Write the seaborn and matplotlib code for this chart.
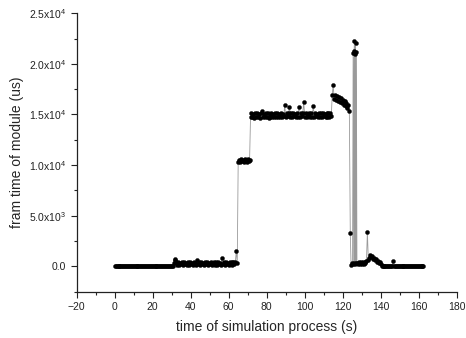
import numpy as np
import pandas as pd
import matplotlib
matplotlib.use("Agg")
import matplotlib.pyplot as plt
from matplotlib.ticker import MultipleLocator, FixedLocator, FixedFormatter
import seaborn as sns

# Frame time of module (us), one list per phase of the run
# idle phase, 0 - 30.5 s
seg_a_start, seg_a_step = 0.0, 0.5
seg_a = [0, 0, 0, 0, 0, 0, 0, 0, 0, 0, 0, 0, 0, 0, 0, 0, 0, 0, 0, 0,
         0, 0, 0, 0, 0, 0, 0, 0, 0, 0, 0, 0, 0, 0, 0, 0, 0, 0, 0, 0,
         0, 0, 0, 0, 0, 0, 0, 0, 0, 0, 0, 0, 0, 0, 0, 0, 0, 0, 0, 0,
         0, 0]

# low load, 31 - 64.5 s
seg_b_start, seg_b_step = 31.0, 0.5
seg_b = [350, 760, 620, 420, 180, 400, 150, 380, 200, 420, 160, 390, 210, 360,
         140, 420, 180, 400, 220, 370, 150, 410, 190, 380, 170, 660, 200, 390,
         160, 420, 210, 360, 150, 400, 190, 430, 170, 380, 200, 410, 160, 370,
         220, 400, 150, 390, 180, 420, 200, 380, 170, 860, 190, 400, 160, 420,
         210, 370, 150, 410, 190, 390, 170, 430, 200, 400, 1550, 300]

# first step, 65 - 71 s
seg_c_start, seg_c_step = 65.0, 0.5
seg_c = [10350, 10550, 10300, 10600, 10400, 10520, 10280, 10580, 10450, 10350,
         10600, 10420, 10550]

# plateau, 71.5 - 114 s
seg_d_start, seg_d_step = 71.5, 0.5
seg_d = [14750, 15100, 14700, 15050, 14650, 15150, 14700, 15100, 14750, 15050,
         14680, 15120, 15300, 14720, 15080, 14700, 15150, 14750, 15100, 14650,
         15050, 14720, 15120, 14780, 15080, 14700, 15150, 14750, 15100, 14720,
         15050, 14780, 15120, 14750, 15080, 14800, 15950, 14750, 15100, 14800,
         15150, 15700, 14780, 15100, 14750, 15150, 14800, 15080, 14720, 15120,
         14780, 15700, 14750, 15100, 14800, 15150, 16250, 14780, 15120, 14750,
         15080, 14800, 15150, 14720, 15100, 14780, 15870, 14750, 15120, 14800,
         15080, 14720, 15150, 14780, 15100, 14750, 15120, 14800, 15080, 14720,
         15150, 14780, 15100, 14750, 15120, 14800]

# decaying block, 114.5 - 123.5 s
seg_e_start, seg_e_step = 114.5, 0.5
seg_e = [16950, 17900, 16550, 16950, 16450, 16850, 16350, 16700, 16250, 16600,
         16100, 16450, 15950, 16300, 15800, 16100, 15600, 15900, 15350]

# spike around 126 s (irregular samples)
spike_t = [124.0, 124.4, 124.8, 125.2, 125.5, 125.8, 126.0, 126.2, 126.4,
           126.6, 126.8, 127.0, 127.2, 127.5]
spike_v = [3250, 150, 300, 200, 21100, 300, 21300, 22300, 250, 21000, 22100,
           350, 21200, 300]

# small bump, 128 - 140 s
seg_g_start, seg_g_step = 128.0, 0.5
seg_g = [200, 400, 250, 450, 200, 420, 250, 450, 300, 500, 3400, 600, 850,
         1100, 900, 1000, 750, 850, 600, 700, 450, 550, 300, 400, 200]

# idle again, 140.5 - 162.5 s
seg_h_start, seg_h_step = 140.5, 0.5
seg_h = [0, 0, 0, 0, 0, 0, 0, 0, 0, 0, 0, 0, 500, 0, 0, 0, 0, 0, 0, 0,
         0, 0, 0, 0, 0, 0, 0, 0, 0, 0, 0, 0, 0, 0, 0, 0, 0, 0, 0, 0,
         0, 0, 0, 0, 0]

y_ticks = [0, 5000, 10000, 15000, 20000, 25000]
y_tick_labels = ["0.0", r"$\mathregular{5.0x10^{3}}$", r"$\mathregular{1.0x10^{4}}$",
                 r"$\mathregular{1.5x10^{4}}$", r"$\mathregular{2.0x10^{4}}$",
                 r"$\mathregular{2.5x10^{4}}$"]


def seg(start, step, vals):
    t = start + step * np.arange(len(vals))
    return pd.DataFrame({"t": t, "v": vals})


df = pd.concat([
    seg(seg_a_start, seg_a_step, seg_a),
    seg(seg_b_start, seg_b_step, seg_b),
    seg(seg_c_start, seg_c_step, seg_c),
    seg(seg_d_start, seg_d_step, seg_d),
    seg(seg_e_start, seg_e_step, seg_e),
    pd.DataFrame({"t": spike_t, "v": spike_v}),
    seg(seg_g_start, seg_g_step, seg_g),
    seg(seg_h_start, seg_h_step, seg_h),
], ignore_index=True)

sns.set_style("ticks")
plt.rcParams['font.family'] = ['Liberation Sans', 'DejaVu Sans']
plt.rcParams['mathtext.fontset'] = 'custom'
plt.rcParams['mathtext.rm'] = 'Liberation Sans'
plt.rcParams['mathtext.it'] = 'Liberation Sans:italic'

fig = plt.figure(figsize=(4.66, 3.38), dpi=100)
ax = fig.add_axes([0.1646, 0.137, 0.8154, 0.824])

sns.lineplot(data=df, x="t", y="v", estimator=None, sort=False, ax=ax,
             color="#9a9a9a", linewidth=0.6, marker="o", markersize=2.9,
             markerfacecolor="black", markeredgecolor="black",
             markeredgewidth=0.3)

ax.set_xlim(-20, 180)
ax.set_ylim(-2500, 25000)
ax.xaxis.set_major_locator(MultipleLocator(20))
ax.xaxis.set_minor_locator(MultipleLocator(10))
ax.yaxis.set_major_locator(FixedLocator(y_ticks))
ax.yaxis.set_major_formatter(FixedFormatter(y_tick_labels))
ax.yaxis.set_minor_locator(MultipleLocator(2500))

sns.despine(ax=ax)
for side in ["left", "bottom"]:
    ax.spines[side].set_linewidth(0.9)
    ax.spines[side].set_color("#222222")
ax.tick_params(which="major", length=4, width=0.8, direction="out",
               labelsize=7.5, colors="#222222")
ax.tick_params(which="minor", length=2.5, width=0.8, direction="out",
               colors="#222222")

ax.set_xlabel("time of simulation process (s)", fontsize=10, labelpad=6)
ax.set_ylabel("fram time of module (us)", fontsize=10, labelpad=4)

fig.savefig("out.png", dpi=100)
